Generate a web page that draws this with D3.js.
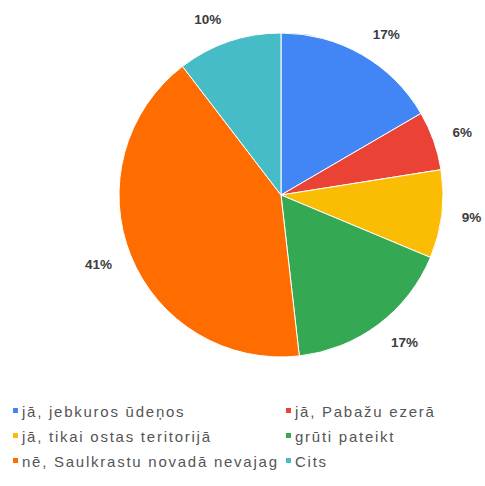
<!DOCTYPE html>
<html><head><meta charset="utf-8">
<script src="https://cdn.jsdelivr.net/npm/d3@7"></script>
<style>html,body{margin:0;padding:0;background:#fff;}</style>
</head><body>
<svg id="c" width="485" height="486"></svg>
<script>
const categories = ["jā, jebkuros ūdeņos", "jā, Pabažu ezerā", "jā, tikai ostas teritorijā", "grūti pateikt", "nē, Saulkrastu novadā nevajag", "Cits"];
const values = [16.6, 5.9, 8.8, 16.9, 41.4, 10.4];
const labels = ["17%", "6%", "9%", "17%", "41%", "10%"];
const colors = ["#4285f4", "#ea4335", "#fbbc04", "#34a853", "#ff6d01", "#46bdc6"];

const svg = d3.select("#c");
const cx = 281, cy = 195, R = 162;
const g = svg.append("g").attr("transform", `translate(${cx},${cy})`);
const pie = d3.pie().sort(null).value(d => d);
const arcs = pie(values);
const arc = d3.arc().innerRadius(0).outerRadius(R);
g.selectAll("path").data(arcs).join("path")
  .attr("d", arc).attr("fill", (d,i) => colors[i])
  .attr("stroke", "#fff").attr("stroke-width", 1);

// labels outside: anchored at a ray point, text extends away from pie
const rx = 180, ry = 185, hgap = 2;
const mid = d => (d.startAngle + d.endAngle) / 2;
g.selectAll("text.lab").data(arcs).join("text").attr("class","lab")
  .attr("x", d => { const s = Math.sin(mid(d)); return rx*s + Math.sign(s)*hgap; })
  .attr("y", d => -ry*Math.cos(mid(d)))
  .attr("text-anchor", d => Math.sin(mid(d)) >= 0 ? "start" : "end")
  .attr("dominant-baseline","central")
  .attr("font-family","Liberation Sans, Arial, sans-serif").attr("font-weight","bold")
  .attr("font-size", 13.5).attr("fill","#3c3c3c")
  .text((d,i) => labels[i]);

// legend
const colX = [13, 286], rowY = [411, 436, 461];
const leg = svg.append("g");
categories.forEach((c, i) => {
  const x = colX[i % 2], y = rowY[Math.floor(i / 2)];
  leg.append("rect").attr("x", x).attr("y", y - 3).attr("width", 5).attr("height", 5).attr("fill", colors[i]);
  leg.append("text").attr("x", x + 9).attr("y", y).attr("dominant-baseline","central")
    .attr("font-family","Liberation Sans, Arial, sans-serif").attr("font-size", 15)
    .attr("letter-spacing", 1.75).attr("fill", "#555").text(c);
});
</script>
</body></html>
